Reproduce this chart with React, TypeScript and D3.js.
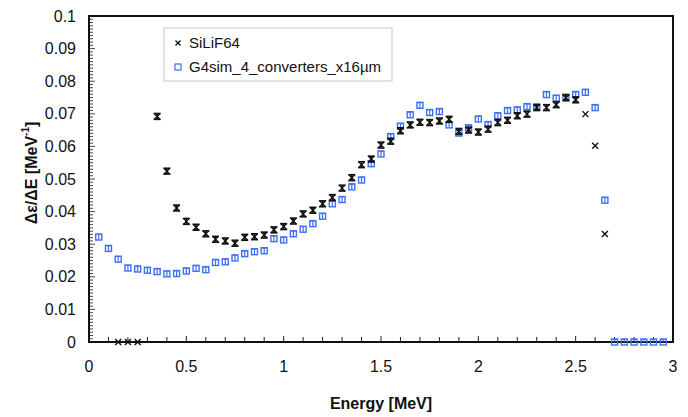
import React from "react";
import * as d3 from "d3";

// SiLiF64 measurement
const siEnergy = [0.15, 0.2, 0.25, 0.35, 0.4, 0.45, 0.5, 0.55, 0.6, 0.65, 0.7, 0.75, 0.8, 0.85, 0.9, 0.95, 1.0, 1.05, 1.1, 1.15, 1.2, 1.25, 1.3, 1.35, 1.4, 1.45, 1.5, 1.55, 1.6, 1.65, 1.7, 1.75, 1.8, 1.85, 1.9, 1.95, 2.0, 2.05, 2.1, 2.15, 2.2, 2.25, 2.3, 2.35, 2.4, 2.45, 2.5, 2.55, 2.6, 2.65];
const siValue = [0, 0, 0, 0.0692, 0.0524, 0.0411, 0.037, 0.0352, 0.0332, 0.0315, 0.031, 0.0303, 0.0321, 0.0323, 0.0328, 0.0344, 0.0354, 0.0371, 0.0393, 0.0404, 0.0424, 0.0443, 0.0472, 0.0504, 0.0544, 0.0561, 0.0604, 0.0616, 0.0648, 0.0666, 0.0674, 0.0673, 0.0678, 0.0683, 0.0646, 0.065, 0.0644, 0.0653, 0.0673, 0.068, 0.0694, 0.0699, 0.0719, 0.0719, 0.0728, 0.0749, 0.0743, 0.0699, 0.0602, 0.0331];
const siError = [0, 0, 0, 0.0009, 0.0009, 0.0009, 0.0009, 0.0009, 0.0009, 0.0009, 0.0009, 0.0009, 0.0009, 0.0009, 0.0009, 0.0009, 0.0009, 0.0009, 0.0009, 0.0009, 0.0009, 0.0009, 0.0009, 0.0009, 0.0009, 0.0009, 0.0009, 0.0009, 0.0009, 0.0009, 0.0009, 0.0009, 0.0009, 0.0009, 0.0009, 0.0009, 0.0009, 0.0009, 0.0009, 0.0009, 0.0009, 0.0009, 0.0009, 0.0009, 0.0009, 0.0009, 0.0009, 0, 0, 0];

// G4 simulation, 4 converters x16um
const g4Energy = [0.05, 0.1, 0.15, 0.2, 0.25, 0.3, 0.35, 0.4, 0.45, 0.5, 0.55, 0.6, 0.65, 0.7, 0.75, 0.8, 0.85, 0.9, 0.95, 1.0, 1.05, 1.1, 1.15, 1.2, 1.25, 1.3, 1.35, 1.4, 1.45, 1.5, 1.55, 1.6, 1.65, 1.7, 1.75, 1.8, 1.85, 1.9, 1.95, 2.0, 2.05, 2.1, 2.15, 2.2, 2.25, 2.3, 2.35, 2.4, 2.45, 2.5, 2.55, 2.6, 2.65, 2.7, 2.75, 2.8, 2.85, 2.9, 2.95];
const g4Value = [0.0322, 0.0287, 0.0254, 0.0227, 0.0224, 0.022, 0.0216, 0.0209, 0.021, 0.0218, 0.0226, 0.0222, 0.0244, 0.0246, 0.0258, 0.0271, 0.0277, 0.028, 0.0317, 0.0313, 0.0332, 0.0346, 0.0363, 0.0386, 0.0424, 0.0437, 0.0476, 0.0497, 0.0547, 0.0577, 0.063, 0.0662, 0.0697, 0.0726, 0.0704, 0.0707, 0.0666, 0.0641, 0.0657, 0.0684, 0.0667, 0.0694, 0.071, 0.0712, 0.0722, 0.0721, 0.0759, 0.0748, 0.0751, 0.0759, 0.0766, 0.0719, 0.0435, 0, 0, 0, 0, 0, 0];
const g4Error = 0.0008;

const xTickLabels = ["0", "0.5", "1", "1.5", "2", "2.5", "3"];
const yTickLabels = ["0", "0.01", "0.02", "0.03", "0.04", "0.05", "0.06", "0.07", "0.08", "0.09", "0.1"];

const W = 688, H = 417;
const m = { left: 89, right: 673, top: 16, bottom: 342 };
const FONT = "'Liberation Sans', Arial, sans-serif";
const BLUE = "#3d6ff2";

export default function App() {
  const x = d3.scaleLinear().domain([0, 3]).range([m.left, m.right]);
  const y = d3.scaleLinear().domain([0, 0.1]).range([m.bottom, m.top]);

  const xMinor = d3.range(0, 31).map((i) => i / 10);
  const yMinor = d3.range(0, 101).map((i) => i / 1000);

  const si = siEnergy.map((e, i) => ({ e, v: siValue[i], err: siError[i] }));
  const g4 = g4Energy.map((e, i) => ({ e, v: g4Value[i] }));

  const cross = (cx: number, cy: number, s: number, key: string | number) => (
    <path key={key} d={`M${cx - s},${cy - s}L${cx + s},${cy + s}M${cx - s},${cy + s}L${cx + s},${cy - s}`} stroke="#111" strokeWidth={1.4} fill="none" />
  );

  return (
    <svg width={W} height={H} style={{ position: "absolute", left: 0, top: 0, background: "#fff" }} fontFamily={FONT}>
      <rect width={W} height={H} fill="#fff" />

      {/* ticks */}
      {xMinor.map((t, i) => (
        <line key={"xt" + i} x1={x(t)} x2={x(t)} y1={m.bottom} y2={m.bottom - (i % 5 === 0 ? 6 : 5)} stroke="#222" strokeWidth={1} />
      ))}
      {yMinor.map((t, i) => (
        <line key={"yt" + i} x1={m.left} x2={m.left + (i % 10 === 0 ? 6 : 4)} y1={y(t)} y2={y(t)} stroke="#333" strokeWidth={0.9} />
      ))}

      {/* frame */}
      <rect x={m.left} y={m.top} width={m.right - m.left} height={m.bottom - m.top} fill="none" stroke="#111" strokeWidth={2} />

      {/* tick labels */}
      {xTickLabels.map((l) => (
        <text key={"xl" + l} x={x(+l)} y={m.bottom + 30} textAnchor="middle" fontSize={16} fill="#111">{l}</text>
      ))}
      {yTickLabels.map((l) => (
        <text key={"yl" + l} x={76} y={y(+l)} dy="0.35em" textAnchor="end" fontSize={16} fill="#111">{l}</text>
      ))}

      {/* axis titles */}
      <text x={381} y={409} textAnchor="middle" fontSize={16} fontWeight="bold" fill="#111">Energy [MeV]</text>
      <text transform={`translate(37,173) rotate(-90)`} textAnchor="middle" fontSize={16} fontWeight="bold" fill="#111">
        Δε/ΔE [MeV<tspan dy={-8} fontSize={10}>-1</tspan><tspan dy={8}>]</tspan>
      </text>

      {/* G4 simulation */}
      <g>
        {g4.map((d, i) => {
          const cx = x(d.e), cy = y(d.v);
          return (
            <g key={"g" + i}>
              <line x1={cx} x2={cx} y1={y(d.v + g4Error)} y2={y(Math.max(0, d.v - g4Error))} stroke={BLUE} strokeWidth={1.2} />
              <line x1={cx - 2} x2={cx + 2} y1={y(d.v + g4Error)} y2={y(d.v + g4Error)} stroke={BLUE} strokeWidth={1} />
              <rect x={cx - 3} y={cy - 3} width={6} height={6} fill="none" stroke={BLUE} strokeWidth={1.4} />
            </g>
          );
        })}
      </g>

      {/* SiLiF64 measurement */}
      <g>
        {si.map((d, i) => {
          const cx = x(d.e), cy = y(d.v);
          return (
            <g key={"s" + i}>
              {d.err > 0 && (
                <g stroke="#111" strokeWidth={1.6}>
                  <line x1={cx} x2={cx} y1={y(d.v + d.err)} y2={y(d.v - d.err)} />
                  <line x1={cx - 3.5} x2={cx + 3.5} y1={y(d.v + d.err)} y2={y(d.v + d.err)} />
                  <line x1={cx - 3.5} x2={cx + 3.5} y1={y(d.v - d.err)} y2={y(d.v - d.err)} />
                </g>
              )}
              {cross(cx, cy, 3, "c")}
            </g>
          );
        })}
      </g>

      {/* legend */}
      <rect x={164} y={28} width={228} height={53} fill="#fff" stroke="#c8c8c8" strokeWidth={1} />
      {cross(178, 43, 2.5, "lc")}
      <text x={189} y={43} dy="0.35em" fontSize={15} fill="#111">SiLiF64</text>
      <rect x={175} y={64} width={6} height={6} fill="none" stroke={BLUE} strokeWidth={1.2} />
      <text x={189} y={67} dy="0.35em" fontSize={15} fill="#111">G4sim_4_converters_x16µm</text>
    </svg>
  );
}
